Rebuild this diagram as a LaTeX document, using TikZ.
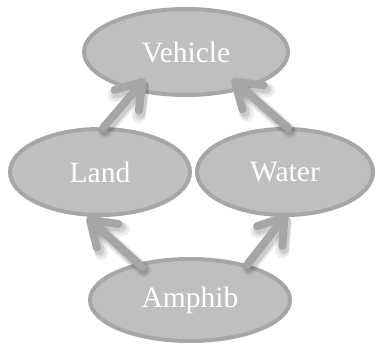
\documentclass[tikz,border=0pt]{standalone}
\usepackage{fontspec}
\setmainfont{Liberation Serif}
\usetikzlibrary{shapes.geometric,arrows.meta}
\definecolor{efill}{HTML}{BFBFBF}
\definecolor{eline}{HTML}{A6A6A6}
\tikzset{
  ebox/.style={ellipse, draw=eline, line width=4pt, fill=efill, inner sep=0pt,
    text=white, font=\fontsize{29.5}{34}\selectfont},
  tipshape/.style={-{Straight Barb[length=24pt,width=32pt,line cap=round,line join=round]}},
  conn/.style={draw=eline, line width=8pt, line cap=round, tipshape},
  connshadow/.style={draw=black, opacity=0.07, line width=#1, line cap=round, tipshape,
    transform canvas={shift={(2pt,-3pt)}}}
}
\begin{document}
\begin{tikzpicture}[x=1pt,y=-1pt]
\useasboundingbox (0,0) rectangle (380,345);
\node[ebox, minimum width=204pt, minimum height=86pt] (vehicle) at (186,52) {Vehicle};
\node[ebox, minimum width=180pt, minimum height=86pt] (land) at (100,172) {Land};
\node[ebox, minimum width=176pt, minimum height=86pt] (water) at (285,172) {Water};
\node[ebox, minimum width=200pt, minimum height=82pt] (amphib) at (190,300) {Amphib};
\coordinate (lv) at (145,79);
\coordinate (wv) at (232,79);
\coordinate (al) at (87,217);
\coordinate (aw) at (287,214);
\coordinate (ls) at (103,128);
\coordinate (ws) at (288,128);
\coordinate (as1) at (142,267);
\coordinate (as2) at (247,265);
\foreach \w in {14pt,11pt,9pt} {
  \draw[connshadow=\w] (ls) -- (lv);
  \draw[connshadow=\w] (ws) -- (wv);
  \draw[connshadow=\w] (as1) -- (al);
  \draw[connshadow=\w] (as2) -- (aw);
}
\draw[conn] (ls) -- (lv);
\draw[conn] (ws) -- (wv);
\draw[conn] (as1) -- (al);
\draw[conn] (as2) -- (aw);
\end{tikzpicture}
\end{document}
